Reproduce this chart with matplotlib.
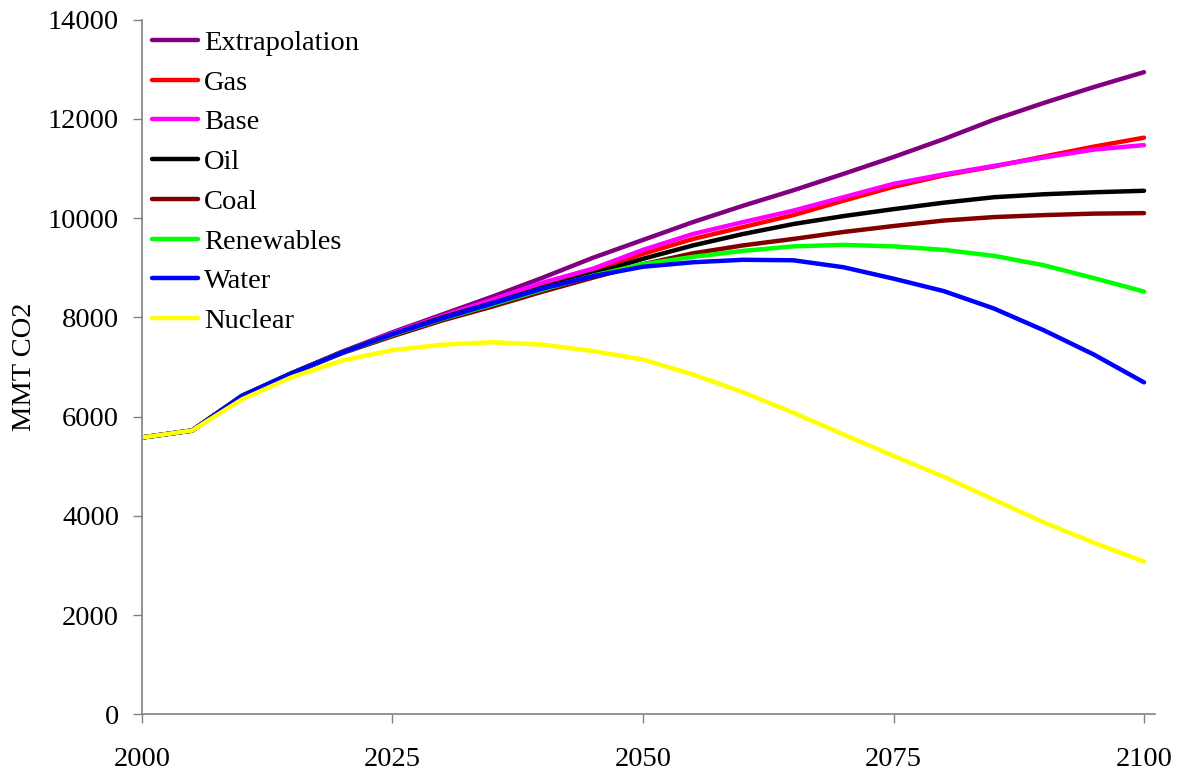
import matplotlib
matplotlib.use("Agg")
import matplotlib.pyplot as plt

# 数据（每5年取值，从图中读取）
years = [2000, 2005, 2010, 2015, 2020, 2025, 2030, 2035, 2040, 2045, 2050,
         2055, 2060, 2065, 2070, 2075, 2080, 2085, 2090, 2095, 2100]

extrapolation = [5580, 5720, 6420, 6880, 7310, 7700, 8060, 8420, 8800, 9200, 9560,
                 9920, 10250, 10560, 10890, 11230, 11590, 11980, 12320, 12640, 12940]
gas = [5580, 5720, 6420, 6880, 7300, 7670, 8020, 8340, 8670, 8950, 9280,
       9580, 9820, 10060, 10350, 10630, 10860, 11040, 11240, 11440, 11620]
base = [5580, 5720, 6420, 6880, 7300, 7680, 8030, 8360, 8700, 8980, 9360,
        9680, 9920, 10150, 10420, 10690, 10880, 11050, 11220, 11380, 11470]
oil = [5580, 5720, 6420, 6880, 7300, 7660, 8000, 8290, 8600, 8880, 9180,
       9450, 9680, 9880, 10040, 10180, 10310, 10420, 10480, 10520, 10550]
coal = [5580, 5720, 6420, 6870, 7280, 7620, 7940, 8220, 8520, 8800, 9070,
        9290, 9450, 9580, 9720, 9840, 9950, 10020, 10060, 10090, 10100]
renewables = [5580, 5720, 6420, 6880, 7290, 7650, 7970, 8260, 8560, 8840, 9070,
              9220, 9340, 9430, 9460, 9430, 9360, 9240, 9050, 8790, 8520]
water = [5580, 5720, 6420, 6880, 7290, 7660, 7980, 8280, 8580, 8830, 9020,
         9110, 9160, 9150, 9010, 8780, 8530, 8180, 7740, 7250, 6690]
nuclear = [5580, 5720, 6350, 6800, 7130, 7340, 7450, 7500, 7450, 7320, 7150,
           6850, 6490, 6080, 5640, 5210, 4790, 4330, 3870, 3460, 3080]

series = [
    ("Extrapolation", extrapolation, "#800080"),
    ("Gas", gas, "#FF0000"),
    ("Base", base, "#FF00FF"),
    ("Oil", oil, "#000000"),
    ("Coal", coal, "#800000"),
    ("Renewables", renewables, "#00FF00"),
    ("Water", water, "#0000FF"),
    ("Nuclear", nuclear, "#FFFF00"),
]

plt.rcParams['font.family'] = ['Liberation Serif', 'DejaVu Serif']
plt.rcParams['font.size'] = 20.5

fig = plt.figure(figsize=(11.92, 7.75), dpi=100)
ax = fig.add_axes([0.1191, 0.0781, 0.8499, 0.8967])

for name, vals, color in series:
    ax.plot(years, vals, color=color, linewidth=3.2, label=name,
            solid_capstyle='round', solid_joinstyle='round')

ax.set_xlim(2000, 2101.1)
ax.set_ylim(0, 14000)
ax.set_xticks([2000, 2025, 2050, 2075, 2100])
ax.set_yticks(range(0, 14001, 2000))

for side in ['top', 'right']:
    ax.spines[side].set_visible(False)
for side in ['left', 'bottom']:
    ax.spines[side].set_color('#808080')
    ax.spines[side].set_linewidth(1.2)

ax.tick_params(axis='both', direction='out', length=6.5, width=1.0,
               color='#808080', labelcolor='black', labelsize=20.5)
ax.tick_params(axis='y', pad=10)
ax.tick_params(axis='x', pad=17)

ax.set_ylabel("MMT CO2", fontsize=20.5, labelpad=8)

leg = ax.legend(loc='upper left', bbox_to_anchor=(0.01, 0.985), frameon=False,
                fontsize=20.5, handlelength=1.6, handletextpad=0.22,
                labelspacing=0.485, borderpad=0, borderaxespad=0)
for line in leg.get_lines():
    line.set_linewidth(3.2)

fig.savefig("out.png", dpi=100)
